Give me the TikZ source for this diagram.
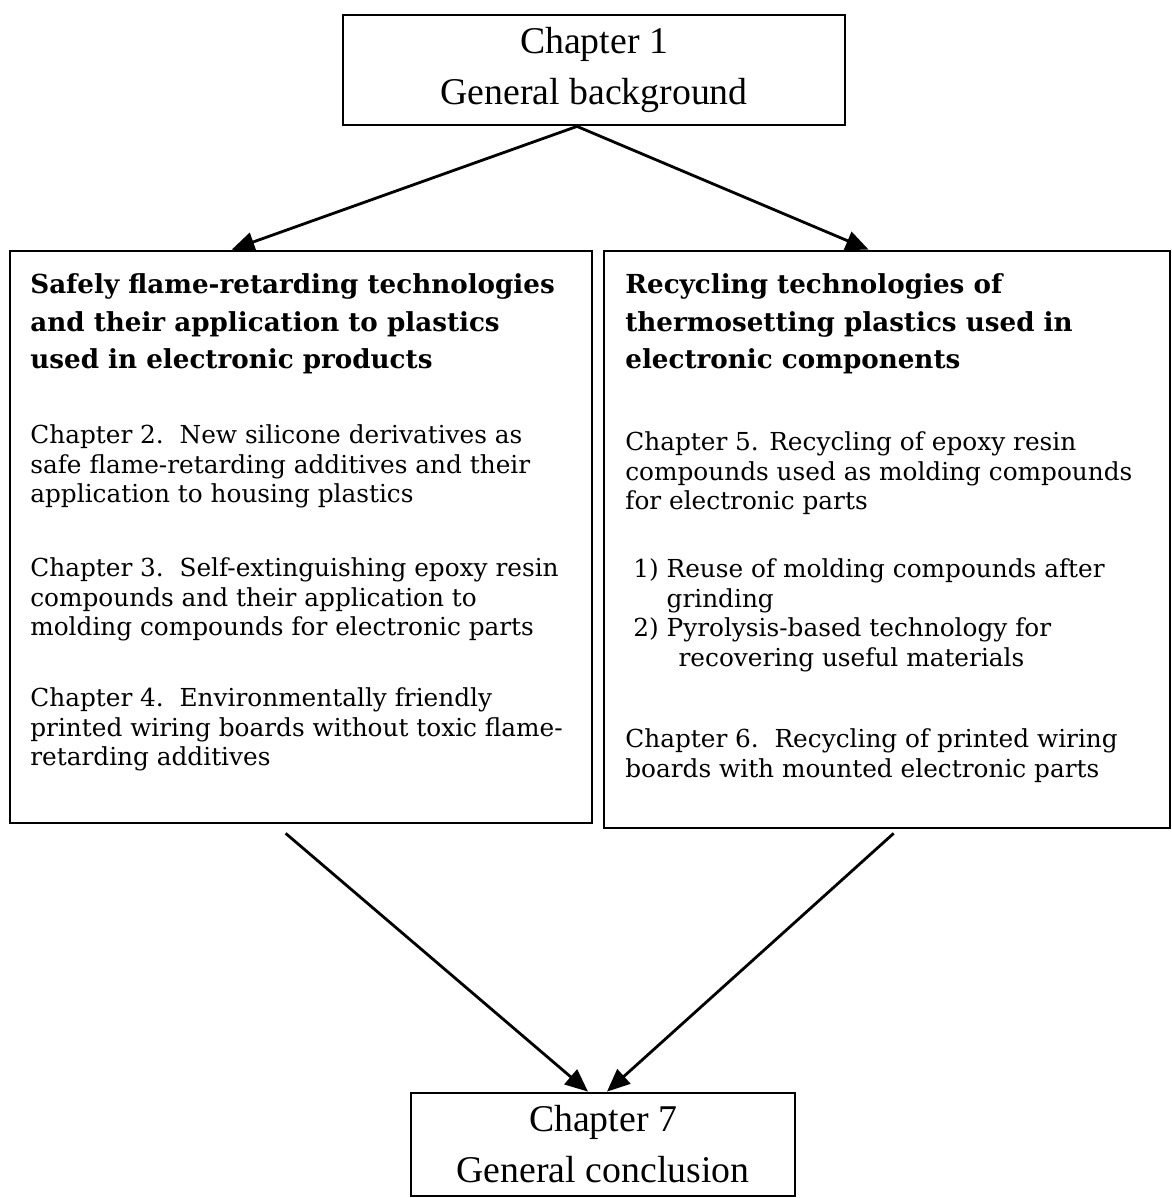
\documentclass[tikz,border=0pt]{standalone}
\usepackage{fontspec}
\setmainfont{DejaVu Serif}
\newfontfamily\timesfont{Liberation Serif}
\usepackage{tikz}
\usetikzlibrary{arrows.meta,calc}

\begin{document}
\begin{tikzpicture}[
  x=0.02cm,y=-0.02cm,
  chapbox/.style={draw,line width=1.6pt,align=center,inner sep=0pt,
                  font=\timesfont\fontsize{21.5}{29}\selectfont},
  partbox/.style={draw,line width=1.6pt,inner sep=0pt},
  headtxt/.style={anchor=north west,inner sep=0pt,align=left,
                  font=\bfseries\fontsize{14.9}{21.5}\selectfont},
  bodytxt/.style={anchor=north west,inner sep=0pt,align=left,
                  font=\fontsize{14.1}{17}\selectfont},
  arr/.style={-{Triangle[length=13pt,width=11pt]},line width=1.6pt}
]
\useasboundingbox (0,0) rectangle (1171,1198);

% chapter boxes
\node[chapbox,minimum width=10.04cm,minimum height=2.2cm] (intro) at (594,70)
  {Chapter 1\\General background};
\node[chapbox,minimum width=7.68cm,minimum height=2.06cm] (concl) at (603,1144.5)
  {Chapter 7\\General conclusion};

% the two parts
\node[partbox,minimum width=11.64cm,minimum height=11.44cm] (safe) at (301,537) {};
\node[partbox,minimum width=11.32cm,minimum height=11.54cm] (recyc) at (887,539.5) {};

\node[headtxt] (safehead) at (30,273)
  {Safely flame-retarding technologies\\and their application to plastics\\used in electronic products};
\node[bodytxt] (ch2) at (30,424)
  {Chapter 2.\ \ New silicone derivatives as\\safe flame-retarding additives and their\\application to housing plastics};
\node[bodytxt] (ch3) at (30,557)
  {Chapter 3.\ \ Self-extinguishing epoxy resin\\compounds and their application to\\molding compounds for electronic parts};
\node[bodytxt] (ch4) at (30,687)
  {Chapter 4.\ \ Environmentally friendly\\printed wiring boards without toxic flame-\\retarding additives};

\node[headtxt] (recychead) at (625,273)
  {Recycling technologies of\\thermosetting plastics used in\\electronic components};
\node[bodytxt] (ch5) at (625,431)
  {Chapter 5. Recycling of epoxy resin\\compounds used as molding compounds\\for electronic parts};
\node[bodytxt] (ch5list) at (633,558)
  {1) Reuse of molding compounds after\\\hphantom{1) }grinding\\2) Pyrolysis-based technology for\\\hphantom{1) }\hspace*{0.24cm}recovering useful materials};
\node[bodytxt] (ch6) at (625,728)
  {Chapter 6.\ \ Recycling of printed wiring\\boards with mounted electronic parts};

% connectors
\draw[arr] ($(intro.south)+(-17,0)$) -- ($(safe.north west)+(223,0)$);
\draw[arr] ($(intro.south)+(-17,0)$) -- ($(recyc.north west)+(266,0)$);
\draw[arr] ($(safe.south west)+(277,9)$) -- ($(concl.north)+(-15,0)$);
\draw[arr] ($(recyc.south west)+(291,4)$) -- ($(concl.north)+(4,0)$);
\end{tikzpicture}
\end{document}
